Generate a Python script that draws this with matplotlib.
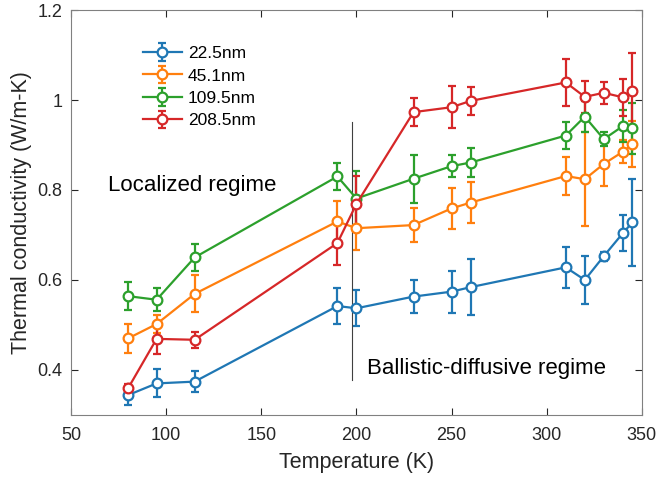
import numpy as np
import matplotlib.pyplot as plt

plt.rcParams['font.family'] = ['Liberation Sans', 'DejaVu Sans']

temps = [80, 95, 115, 190, 200, 230, 250, 260, 310, 320, 330, 340, 345]

k_22 = [0.344, 0.370, 0.374, 0.542, 0.537, 0.563, 0.574, 0.584, 0.628, 0.600, 0.653, 0.704, 0.728]
e_22 = [0.022, 0.031, 0.023, 0.040, 0.040, 0.037, 0.047, 0.062, 0.046, 0.053, 0.010, 0.040, 0.096]

k_45 = [0.470, 0.502, 0.569, 0.730, 0.715, 0.722, 0.759, 0.772, 0.831, 0.824, 0.858, 0.885, 0.902]
e_45 = [0.032, 0.020, 0.041, 0.045, 0.048, 0.037, 0.046, 0.046, 0.043, 0.104, 0.050, 0.026, 0.052]

k_109 = [0.564, 0.556, 0.650, 0.830, 0.781, 0.825, 0.853, 0.861, 0.921, 0.963, 0.913, 0.942, 0.937]
e_109 = [0.031, 0.026, 0.030, 0.030, 0.062, 0.053, 0.024, 0.033, 0.031, 0.035, 0.016, 0.035, 0.057]

k_208 = [0.359, 0.469, 0.467, 0.682, 0.769, 0.973, 0.984, 0.998, 1.039, 1.007, 1.016, 1.006, 1.021]
e_208 = [0.010, 0.034, 0.018, 0.048, 0.062, 0.031, 0.047, 0.031, 0.053, 0.036, 0.025, 0.041, 0.084]

labels = ["22.5nm", "45.1nm", "109.5nm", "208.5nm"]
colors = ["#1f77b4", "#ff7f0e", "#2ca02c", "#d62728"]

fig = plt.figure(figsize=(6.57, 4.78), dpi=100)
ax = fig.add_axes([0.108, 0.132, 0.869, 0.847])

for k, e, lab, c in zip([k_22, k_45, k_109, k_208], [e_22, e_45, e_109, e_208], labels, colors):
    ax.errorbar(temps, k, yerr=e, color=c, lw=1.6, elinewidth=1.6, capsize=3, capthick=1.6,
                marker="o", ms=7, mfc="white", mec=c, mew=1.6, label=lab)

# boundary between regimes
ax.plot([197.7, 197.7], [0.378, 0.952], color="#404040", lw=0.8)
ax.text(69.6, 0.809, "Localized regime", fontsize=16, va="center", ha="left")
ax.text(205.6, 0.404, "Ballistic-diffusive regime", fontsize=16, va="center", ha="left")

ax.set_xlim(50, 350)
ax.set_ylim(0.3, 1.2)
ax.set_xticks([50, 100, 150, 200, 250, 300, 350])
ax.set_yticks([0.4, 0.6, 0.8, 1.0, 1.2])
ax.set_yticklabels(["0.4", "0.6", "0.8", "1", "1.2"])
ax.tick_params(direction="in", top=True, right=True, labelsize=13, colors="#262626", length=5)
ax.tick_params(axis="x", pad=8.5)
ax.tick_params(axis="y", pad=6)
for s in ax.spines.values():
    s.set_color("#808080")
ax.set_xlabel("Temperature (K)", fontsize=15.5, color="#262626", labelpad=6)
ax.set_ylabel("Thermal conductivity (W/m-K)", fontsize=15.5, color="#262626", labelpad=4)

ax.legend(loc="upper left", bbox_to_anchor=(0.098, 0.95), frameon=False, fontsize=12.5,
          handlelength=2.3, handletextpad=0.3, labelspacing=0.42)

fig.savefig("out.png")
